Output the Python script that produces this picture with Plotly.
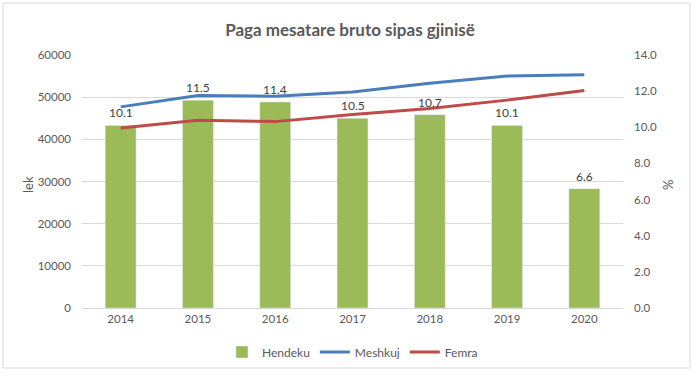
import plotly.graph_objects as go

years = ["2014", "2015", "2016", "2017", "2018", "2019", "2020"]
hendeku = [10.1, 11.5, 11.4, 10.5, 10.7, 10.1, 6.6]
meshkuj = [47700, 50400, 50200, 51200, 53300, 55000, 55300]
femra = [42700, 44500, 44200, 45900, 47300, 49300, 51600]

FONT = "Lato, 'Open Sans', sans-serif"
GRAY = "#595959"

fig = go.Figure()
fig.add_trace(go.Bar(
    x=years, y=hendeku, name="Hendeku", marker_color="#9BBB59",
    width=0.4, yaxis="y",
))
fig.add_trace(go.Scatter(
    x=years, y=meshkuj, name="Meshkuj", mode="lines",
    line=dict(color="#4A7EBB", width=3), yaxis="y2",
))
fig.add_trace(go.Scatter(
    x=years, y=femra, name="Femra", mode="lines",
    line=dict(color="#BE4B48", width=3), yaxis="y2",
))

L, R, T, B = 82, 77, 55, 69
W, H = 700, 377
pw, ph = W - L - R, H - T - B

def px(xp):
    return (xp - L) / pw

def py(yp):
    return (H - B - yp) / ph

# bar value labels, positioned by the category index on the x axis
annotations = [
    dict(text=f"{v:.1f}", x=i, y=v, xref="x", yref="y", xanchor="center",
         yanchor="bottom", yshift=3, showarrow=False,
         font=dict(size=12, color="#404040", family=FONT))
    for i, v in enumerate(hendeku)
]
annotations += [
    dict(text="lek", x=px(28), y=py(185), xref="paper", yref="paper",
         xanchor="center", yanchor="middle",
         showarrow=False, textangle=-90, font=dict(size=13, color=GRAY)),
    dict(text="%", x=px(668), y=py(185), xref="paper", yref="paper",
         xanchor="center", yanchor="middle",
         showarrow=False, textangle=-90, font=dict(size=13, color=GRAY)),
]

fig.update_layout(
    width=W, height=H,
    margin=dict(l=L, r=R, t=T, b=B, autoexpand=False),
    paper_bgcolor="white", plot_bgcolor="white",
    font=dict(family=FONT, color=GRAY, size=12),
    title=dict(text="<b>Paga mesatare bruto sipas gjinisë</b>", x=0.5, xanchor="center",
               y=1 - 30 / H, yanchor="middle", yref="container",
               font=dict(size=17, color=GRAY, family=FONT)),
    bargap=0.6,
    xaxis=dict(type="category", showgrid=False, tickfont=dict(size=11.5, color=GRAY), ticks="",
               showline=True, linecolor="#d9d9d9", linewidth=1),
    yaxis=dict(side="right", range=[0, 14], dtick=2, tickformat=".1f",
               showgrid=False, zeroline=False, ticks="",
               tickfont=dict(size=11.5, color=GRAY), ticklabelstandoff=10),
    yaxis2=dict(side="left", overlaying="y", range=[0, 60000], dtick=10000,
                tickformat="d", showgrid=True, gridcolor="#d9d9d9", gridwidth=1,
                zeroline=False, ticks="", tickfont=dict(size=11.5, color=GRAY),
                ticklabelstandoff=10),
    legend=dict(orientation="h", x=0.5, xanchor="center", y=1 - 352 / H, yanchor="middle",
                yref="container", font=dict(size=12, color=GRAY), traceorder="normal",
                itemwidth=30),
    showlegend=True,
    annotations=annotations,
    shapes=[
        dict(type="rect", xref="paper", yref="paper",
             x0=px(3), x1=px(690), y0=py(368), y1=py(3),
             line=dict(color="#d9d9d9", width=1), fillcolor="rgba(0,0,0,0)", layer="below"),
    ],
)

fig.write_html("out.html", config={"displayModeBar": False},
               post_script="document.body.style.margin='0';")
